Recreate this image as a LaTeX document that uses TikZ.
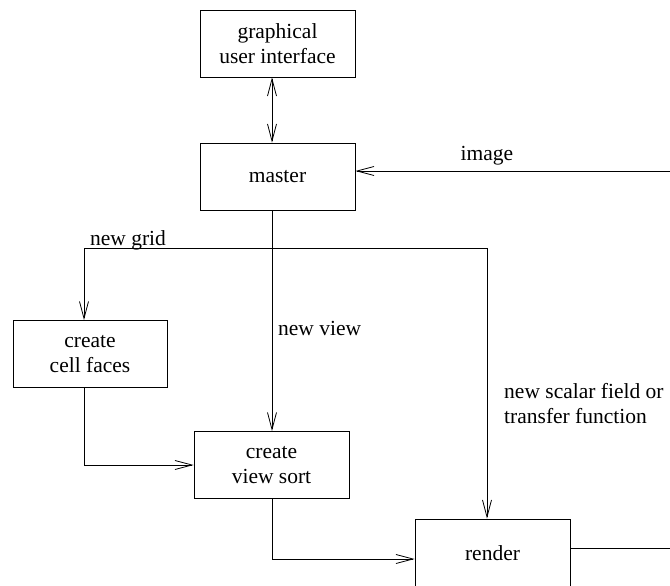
\documentclass[tikz,border=0pt]{standalone}
\usepackage{fontspec}
\setmainfont{Liberation Serif}
\usetikzlibrary{arrows.meta}

\begin{document}
\begin{tikzpicture}[
  x=1pt,y=-1pt,
  font=\fontsize{21.5}{25}\selectfont,
  box/.style={draw,line width=.9pt,align=center,minimum width=155pt,minimum height=67pt,inner sep=0pt},
  arr/.style={-{Straight Barb[length=17pt,width=9pt]},line width=.8pt},
  dblarr/.style={{Straight Barb[length=17pt,width=9pt]}-{Straight Barb[length=17pt,width=9pt]},line width=.8pt},
  lbl/.style={inner sep=0pt}]
\useasboundingbox (0,0) rectangle (670,586);
\node[box] (gui) at (277.5,43.5) {graphical\\user interface};
\node[box] (master) at (277.5,176.5) {master};
\node[box,minimum width=154pt] (faces) at (90,354) {create\\cell faces};
\node[box] (sort) at (271.5,465) {create\\view sort};
\node[box,minimum height=68pt] (render) at (492.5,553) {render};

\coordinate (branch) at (272,248);
\coordinate (gridL) at (84,248);
\coordinate (gridR) at (487,248);
\coordinate (imgin) at (670,171);
\coordinate (imgout) at (670,548);

\draw[dblarr] (gui.south -| branch) -- (master.north -| branch);
\draw[arr] (imgin) -- (imgin -| master.east);
\draw[arr] (master.south -| branch) -- (sort.north -| branch);
\draw[arr] (branch) -- (gridL) -- (faces.north -| gridL);
\draw[arr] (branch) -- (gridR) -- (render.north -| gridR);
\draw[arr] (faces.south -| gridL) |- (sort.west);
\draw[arr] (sort.south -| branch) |- ([yshift=-6pt]render.west);
\draw[line width=.8pt] (render.east |- imgout) -- (imgout);

\node[lbl] (imglbl) at (487,156) {image};
\node[lbl] (gridlbl) at (128,240) {new grid};
\node[lbl,anchor=west] (viewlbl) at (278,328) {new view};
\node[lbl,anchor=north west,align=left] (scalarlbl) at (504,383) {new scalar field or\\transfer function};
\end{tikzpicture}
\end{document}
